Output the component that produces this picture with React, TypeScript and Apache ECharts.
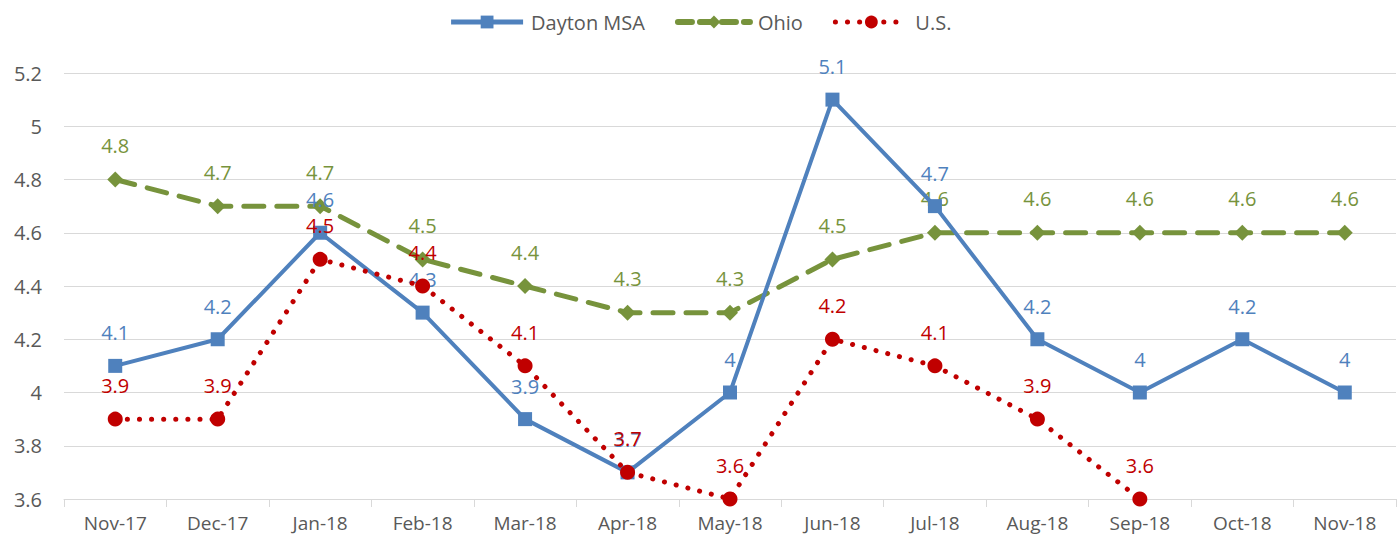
import React, { useEffect, useRef } from "react";
import * as echarts from "echarts";

const categories = ["Nov-17", "Dec-17", "Jan-18", "Feb-18", "Mar-18", "Apr-18", "May-18", "Jun-18", "Jul-18", "Aug-18", "Sep-18", "Oct-18", "Nov-18"];
const dayton = [4.1, 4.2, 4.6, 4.3, 3.9, 3.7, 4.0, 5.1, 4.7, 4.2, 4.0, 4.2, 4.0];
const ohio = [4.8, 4.7, 4.7, 4.5, 4.4, 4.3, 4.3, 4.5, 4.6, 4.6, 4.6, 4.6, 4.6];
const us: (number | null)[] = [3.9, 3.9, 4.5, 4.4, 4.1, 3.7, 3.6, 4.2, 4.1, 3.9, 3.6, null, null];

const FONT = "'Open Sans', 'Liberation Sans', sans-serif";

export default function App() {
  const ref = useRef<HTMLDivElement>(null);
  useEffect(() => {
    if (!ref.current) return;
    const chart = echarts.init(ref.current, null, { renderer: "svg" });
    const label = (color: string) => ({
      show: true,
      position: "top" as const,
      distance: 16,
      color,
      fontSize: 20,
      fontFamily: FONT,
      formatter: (p: any) => String(p.value),
    });
    chart.setOption({
      animation: false,
      backgroundColor: "#ffffff",
      legend: {
        top: 7,
        left: "center",
        itemWidth: 72,
        itemHeight: 16,
        itemGap: 30,
        textStyle: { color: "#595959", fontSize: 20, fontFamily: FONT, padding: [0, 0, 0, 3] },
        data: [
          { name: "Dayton MSA", lineStyle: { width: 5 } },
          { name: "Ohio", lineStyle: { width: 6, type: [14, 8] } },
          { name: "U.S.", lineStyle: { width: 5, type: [0.1, 12] } },
        ],
      },
      grid: { left: 64, right: 4, top: 73, bottom: 41, containLabel: false },
      xAxis: {
        type: "category",
        data: categories,
        boundaryGap: true,
        axisLine: { lineStyle: { color: "#d9d9d9", width: 1 } },
        axisTick: { show: true, length: 8, lineStyle: { color: "#d9d9d9" } },
        axisLabel: { color: "#595959", fontSize: 19, fontFamily: FONT, margin: 14 },
      },
      yAxis: {
        type: "value",
        min: 3.6,
        max: 5.2,
        interval: 0.2,
        axisLine: { show: false },
        axisTick: { show: false },
        splitLine: { lineStyle: { color: "#d9d9d9", width: 1 } },
        axisLabel: {
          color: "#595959",
          fontSize: 20,
          fontFamily: FONT,
          margin: 22,
          formatter: (v: number) => String(Math.round(v * 10) / 10),
        },
      },
      series: [
        {
          name: "Dayton MSA",
          type: "line",
          data: dayton,
          symbol: "rect",
          symbolSize: 14,
          itemStyle: { color: "#4F81BD" },
          lineStyle: { color: "#4F81BD", width: 4 },
          label: label("#4F81BD"),
          z: 3,
        },
        {
          name: "Ohio",
          type: "line",
          data: ohio,
          symbol: "diamond",
          symbolSize: 16,
          itemStyle: { color: "#77933C" },
          lineStyle: { color: "#77933C", width: 5, type: [20, 13], cap: "round" },
          label: label("#77933C"),
          z: 2,
        },
        {
          name: "U.S.",
          type: "line",
          data: us,
          symbol: "circle",
          symbolSize: 15,
          connectNulls: false,
          itemStyle: { color: "#C00000" },
          lineStyle: { color: "#C00000", width: 5, type: [0.1, 12], cap: "round" },
          label: label("#C00000"),
          z: 4,
        },
      ],
    });
    return () => chart.dispose();
  }, []);
  return <div ref={ref} style={{ position: "absolute", left: 0, top: 0, width: 1400, height: 540 }} />;
}
